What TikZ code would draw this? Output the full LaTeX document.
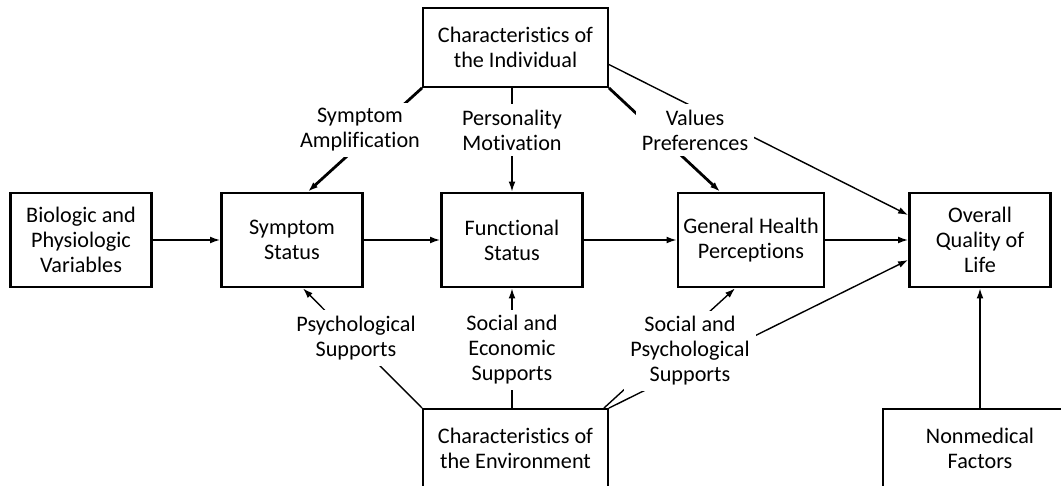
\documentclass[tikz,border=0pt]{standalone}
\usepackage{fontspec}
\setmainfont[Ligatures={NoCommon,NoRare}]{Carlito}
\usetikzlibrary{arrows.meta,positioning,calc}

\begin{document}
\begin{tikzpicture}[x=0.5pt,y=-0.5pt,on grid,
    >={Latex[length=5pt,width=3.4pt]},
    every node/.style={font=\fontsize{11.1}{12.5}\selectfont,align=center},
    mainbox/.style={draw,line width=1.4pt,minimum width=70.5pt,minimum height=47pt,inner sep=2pt},
    sidebox/.style={draw,line width=0.9pt,minimum width=92.5pt,minimum height=39.5pt},
    lbl/.style={fill=white,inner sep=3pt},
    link/.style={line width=0.7pt},
    heavy/.style={line width=1.4pt}]

  \useasboundingbox (0,0) rectangle (1061,486);
  \clip (0,0) rectangle (1061,486);

  % main chain
  \node[mainbox] (bio) at (81,240)             {Biologic and\\Physiologic\\Variables};
  \node[mainbox] (sym) [right=105.5pt of bio]  {Symptom\\Status};
  \node[mainbox] (fun) [right=110pt of sym]    {Functional\\Status};
  \node[mainbox,minimum width=73pt] (gen) [right=119.5pt of fun] {General Health\\Perceptions};
  \node[mainbox] (ovr) [right=114.5pt of gen]  {Overall\\Quality of\\Life};

  % outside influences
  \node[sidebox] (ind) at (515.5,47.5)  {Characteristics of\\the Individual};
  \node[sidebox] (env) at (515.5,448.5) {Characteristics of\\the Environment};
  \node[sidebox,minimum width=97pt] (non) at (980,448.5) {Nonmedical\\Factors};

  \draw[link,->] (bio) -- (sym);
  \draw[link,->] (sym) -- (fun);
  \draw[link,->] (fun) -- (gen);
  \draw[link,->] (gen) -- (ovr);

  \draw[heavy,->] (ind.south west) -- ([xshift=8pt]sym.north);
  \draw[link,->]  (fun.north |- ind.south) -- (fun.north);
  \draw[heavy,->] (ind.south east) -- ([xshift=-15.5pt]gen.north);
  \draw[link,->]  ([yshift=-8.5pt]ind.east) -- ([yshift=12.5pt]ovr.west);

  \draw[link,->] (env.north west) -- ([xshift=5.5pt]sym.south);
  \draw[link,->] (fun.south |- env.north) -- (fun.south);
  \draw[link,->] ([xshift=-2.5pt]env.north east) -- ([xshift=-8pt]gen.south);
  \draw[link,->] (env.north east) -- ([yshift=-10pt]ovr.west);
  \draw[link,->] (non) -- (ovr);

  % labels on the links
  \node[lbl] (amp) at (360,130) {Symptom\\Amplification};
  \node[lbl] (per) at (512,130) {Personality\\Motivation};
  \node[lbl] (val) at (695,130) {Values\\Preferences};
  \node[lbl] (psy) at (356,338) {Psychological\\Supports};
  \node[lbl] (eco) at (512,350) {Social and\\Economic\\Supports};
  \node[lbl] (soc) at (690,351) {Social and\\Psychological\\Supports};
\end{tikzpicture}
\end{document}
